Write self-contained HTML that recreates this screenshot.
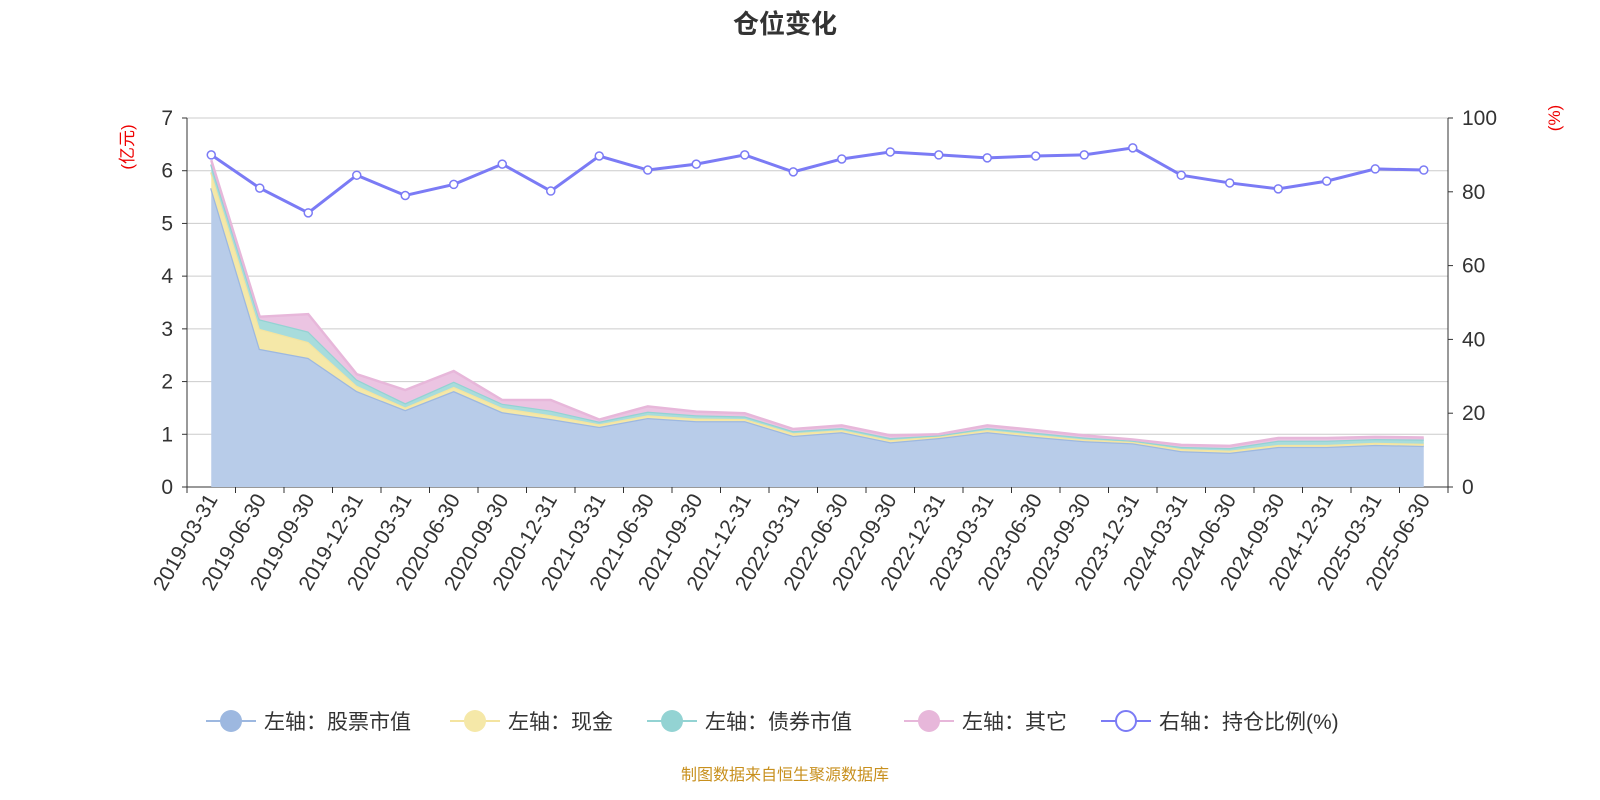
<!DOCTYPE html>
<html><head><meta charset="utf-8"><style>
html,body{margin:0;padding:0;background:#fff;}
svg{display:block;font-family:"Liberation Sans","Noto Sans CJK SC",sans-serif;}
</style></head><body>
<svg id="c" width="1600" height="800" viewBox="0 0 1600 800">
<text x="785" y="33" text-anchor="middle" font-size="26" font-weight="bold" fill="#333">仓位变化</text>
<text transform="translate(133,147) rotate(-90)" text-anchor="middle" font-size="17" fill="#e00">(亿元)</text>
<text transform="translate(1560,118) rotate(-90)" text-anchor="middle" font-size="17" fill="#e00">(%)</text>
<text x="785" y="780" text-anchor="middle" font-size="16" fill="#c8901e">制图数据来自恒生聚源数据库</text>
<g id="plot"></g>
<g id="legend"></g>
</svg>
<script>
const categories=["2019-03-31","2019-06-30","2019-09-30","2019-12-31","2020-03-31","2020-06-30","2020-09-30","2020-12-31","2021-03-31","2021-06-30","2021-09-30","2021-12-31","2022-03-31","2022-06-30","2022-09-30","2022-12-31","2023-03-31","2023-06-30","2023-09-30","2023-12-31","2024-03-31","2024-06-30","2024-09-30","2024-12-31","2025-03-31","2025-06-30"];
const stockValues=[5.67,2.62,2.45,1.82,1.46,1.82,1.42,1.29,1.14,1.31,1.25,1.25,0.97,1.04,0.85,0.93,1.04,0.95,0.87,0.83,0.68,0.65,0.76,0.76,0.8,0.78];
const cashValues=[0.3,0.38,0.3,0.1,0.05,0.08,0.08,0.07,0.05,0.05,0.05,0.04,0.05,0.04,0.04,0.03,0.04,0.04,0.03,0.03,0.04,0.04,0.04,0.04,0.04,0.04];
const bondValues=[0.15,0.18,0.2,0.12,0.08,0.1,0.08,0.09,0.05,0.07,0.06,0.05,0.04,0.04,0.04,0.02,0.04,0.04,0.04,0.02,0.04,0.05,0.08,0.08,0.07,0.08];
const otherValues=[0.08,0.05,0.33,0.1,0.25,0.2,0.07,0.2,0.04,0.1,0.07,0.06,0.04,0.05,0.05,0.02,0.05,0.05,0.04,0.02,0.04,0.04,0.05,0.05,0.04,0.04];
const ratioValues=[90,81,74.3,84.5,79,82,87.5,80.2,89.7,85.9,87.5,90,85.4,88.9,90.8,90,89.2,89.7,90,91.9,84.5,82.4,80.8,82.9,86.2,85.9];
const leftTicks=[0,1,2,3,4,5,6,7];
const rightTicks=[0,20,40,60,80,100];

const NS="http://www.w3.org/2000/svg";
const X0=187,X1=1448,Y0=487,Y1=118;
const band=(X1-X0)/categories.length;
const xc=i=>X0+band*(i+0.5);
const yL=v=>Y0-(v/7)*(Y0-Y1);
const yR=v=>Y0-(v/100)*(Y0-Y1);
const plot=document.getElementById('plot');
function mk(tag,attrs,parent){const e=document.createElementNS(NS,tag);for(const k in attrs)e.setAttribute(k,attrs[k]);(parent||plot).appendChild(e);return e;}

leftTicks.forEach(t=>{
  const g=mk('line',{x1:X0,x2:X1,y1:yL(t),y2:yL(t),stroke:t===0?'#333':'#ccc','stroke-width':1});
  
  
  const tk=mk('line',{x1:X0-5,x2:X0,y1:yL(t),y2:yL(t),stroke:'#333'});
  
  
  const tx=mk('text',{x:X0-14,y:yL(t)+7,'text-anchor':'end','font-size':21,fill:'#333'});
  tx.textContent=t;
  
  
});
rightTicks.forEach(t=>{
  const tk=mk('line',{x1:X1,x2:X1+5,y1:yR(t),y2:yR(t),stroke:'#333'});
  
  
  const tx=mk('text',{x:X1+14,y:yR(t)+7,'text-anchor':'start','font-size':21,fill:'#333'});
  tx.textContent=t;
  
  
});
const la=mk('line',{x1:X0,x2:X0,y1:Y1,y2:Y0,stroke:'#333'});


const ra=mk('line',{x1:X1,x2:X1,y1:Y1,y2:Y0,stroke:'#333'});



const series=[[stockValues,'#b8cce9','#9db8e0','area-stock'],[cashValues,'#f5e8a8','#f4e4a0','area-cash'],[bondValues,'#a8dcdc','#93d3d3','area-bond'],[otherValues,'#ebc4e2','#e7b7da','area-other']];
let base=categories.map(()=>0);
series.forEach(([vals,fill,stroke,name])=>{
  const top=vals.map((v,i)=>base[i]+v);
  let d='M'+top.map((v,i)=>xc(i)+','+yL(v)).join(' L');
  for(let i=categories.length-1;i>=0;i--)d+=' L'+xc(i)+','+yL(base[i]);
  const a=mk('path',{d:d+'Z',fill:fill,stroke:'none'});
  
  
  const l=mk('polyline',{points:top.map((v,i)=>xc(i)+','+yL(v)).join(' '),fill:'none',stroke:stroke,'stroke-width':2.5});
  
  
  base=top;
});
const rl=mk('polyline',{points:ratioValues.map((v,i)=>xc(i)+','+yR(v)).join(' '),fill:'none',stroke:'#7b7bf5','stroke-width':3});


ratioValues.forEach((v,i)=>{
  const c=mk('circle',{cx:xc(i),cy:yR(v),r:4,fill:'#fff',stroke:'#7b7bf5','stroke-width':1.5});
  
  
});
for(let i=0;i<=categories.length;i++){
  const tk=mk('line',{x1:X0+band*i,x2:X0+band*i,y1:Y0,y2:Y0+6,stroke:'#333'});
  
  
}
categories.forEach((c,i)=>{
  const t=mk('text',{transform:`translate(${xc(i)+7},${Y0+12}) rotate(-60)`,'text-anchor':'end','font-size':21,fill:'#333'});
  t.textContent=c;
  
  
});
const leg=document.getElementById('legend');
const items=[['左轴：股票市值','#9db8e0','#9db8e0',false],['左轴：现金','#f4e4a0','#f5e8a8',false],['左轴：债券市值','#93d3d3','#93d3d3',false],['左轴：其它','#e7b7da','#e7b7da',false],['右轴：持仓比例(%)','#7b7bf5','#fff',true]];
const lx=[206,450,647,904,1101];
items.forEach(([label,col,fill,hollow],k)=>{
  const g=mk('g',{},leg);
  
  
  mk('line',{x1:lx[k],x2:lx[k]+50,y1:721,y2:721,stroke:col,'stroke-width':2},g);
  mk('circle',{cx:lx[k]+25,cy:721,r:hollow?10:11,fill:hollow?'#fff':fill,stroke:hollow?col:'none','stroke-width':2},g);
  const t=mk('text',{x:lx[k]+58,y:729,'font-size':21,fill:'#333'},g);
  t.textContent=label;
});
</script>
</body></html>
